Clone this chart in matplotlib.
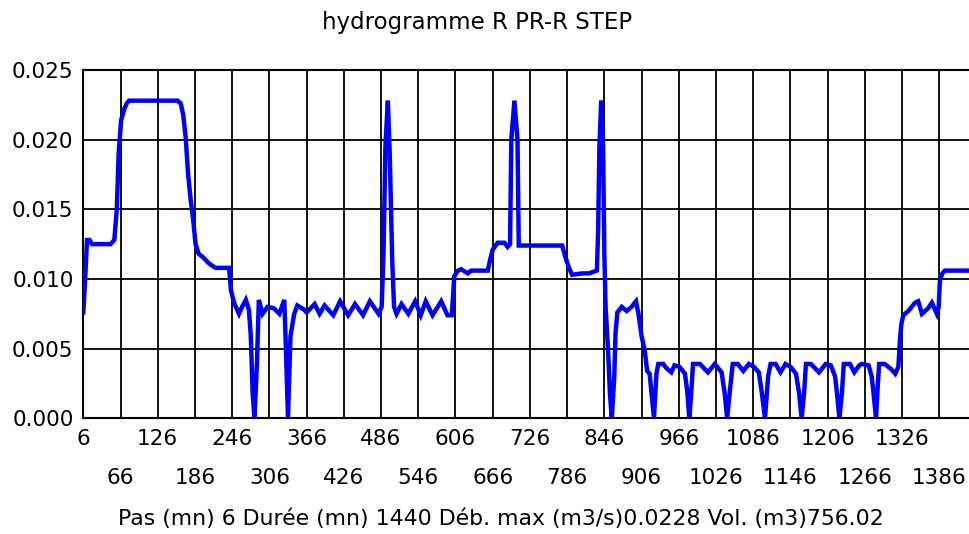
import numpy as np
import matplotlib
matplotlib.use('Agg')
from matplotlib import pyplot as plt
from matplotlib.ticker import FixedLocator, FuncFormatter


TITLE = 'hydrogramme R PR-R STEP'
FOOTER = 'Pas (mn) 6 Durée (mn) 1440 Déb. max (m3/s)0.0228 Vol. (m3)756.02'

time_mn = [6, 9, 12, 16, 20, 50, 56, 60, 63, 67, 72, 76, 80, 158, 163, 167, 171, 175,
           179, 183, 187, 192, 198, 209, 219, 241, 244, 249, 257, 262, 268, 273, 276,
           279, 282, 286, 289, 295, 303, 313, 322, 330, 332, 336, 340, 346, 351, 362,
           366, 379, 387, 395, 409, 420, 433, 444, 457, 468, 482, 487, 490, 493, 497,
           500, 504, 507, 511, 519, 530, 541, 550, 558, 569, 583, 593, 600, 602, 604,
           610, 615, 626, 631, 658, 662, 666, 674, 685, 690, 694, 696, 701, 706, 708,
           720, 778, 783, 789, 794, 810, 821, 834, 836, 838, 841, 844, 846, 848, 852,
           855, 858, 862, 864, 867, 874, 882, 890, 897, 901, 906, 911, 915, 919, 922,
           926, 930, 933, 941, 946, 954, 959, 967, 976, 980, 983, 986, 989, 1000, 1013,
           1024, 1035, 1040, 1044, 1048, 1053, 1061, 1070, 1079, 1087, 1095, 1100, 1105,
           1110, 1114, 1122, 1130, 1138, 1146, 1155, 1160, 1164, 1168, 1171, 1179, 1192,
           1203, 1211, 1218, 1221, 1225, 1229, 1232, 1242, 1249, 1257, 1261, 1272, 1277,
           1280, 1284, 1287, 1289, 1298, 1309, 1315, 1320, 1323, 1325, 1328, 1336, 1347,
           1352, 1358, 1368, 1374, 1382, 1385, 1387, 1391, 1395, 1440]
debit = [0.0076, 0.0100, 0.0128, 0.0128, 0.0125, 0.0125, 0.0128, 0.0150, 0.0190, 0.0214,
         0.0222, 0.0226, 0.0228, 0.0228, 0.0226, 0.0218, 0.0202, 0.0175, 0.0157, 0.0143,
         0.0125, 0.0118, 0.0116, 0.0111, 0.0108, 0.0108, 0.0092, 0.0083, 0.0075, 0.0080,
         0.0085, 0.0078, 0.0059, 0.0018, 0.0, 0.0040, 0.0085, 0.0075, 0.0080, 0.0079,
         0.0075, 0.0085, 0.0059, 0.0, 0.0059, 0.0075, 0.0081, 0.0078, 0.0076, 0.0082,
         0.0075, 0.0081, 0.0074, 0.0084, 0.0074, 0.0082, 0.0074, 0.0084, 0.0075, 0.0080,
         0.0118, 0.0195, 0.0228, 0.0190, 0.0114, 0.0080, 0.0075, 0.0082, 0.0075, 0.0084,
         0.0074, 0.0084, 0.0074, 0.0084, 0.0074, 0.0074, 0.0087, 0.0102, 0.0106, 0.0107,
         0.0104, 0.0106, 0.0106, 0.0114, 0.0121, 0.0126, 0.0126, 0.0123, 0.0125, 0.0200,
         0.0228, 0.0200, 0.0124, 0.0124, 0.0124, 0.0116, 0.0108, 0.0103, 0.0104, 0.0104,
         0.0106, 0.0135, 0.0195, 0.0228, 0.0195, 0.0118, 0.0080, 0.0049, 0.0018, 0.0,
         0.0030, 0.0061, 0.0076, 0.0080, 0.0077, 0.0080, 0.0084, 0.0075, 0.0059, 0.0049,
         0.0034, 0.0032, 0.0018, 0.0, 0.0032, 0.0039, 0.0039, 0.0036, 0.0033, 0.0038,
         0.0037, 0.0032, 0.0018, 0.0, 0.0018, 0.0039, 0.0039, 0.0033, 0.0039, 0.0033,
         0.0018, 0.0, 0.0018, 0.0039, 0.0039, 0.0034, 0.0039, 0.0037, 0.0033, 0.0018,
         0.0, 0.0030, 0.0039, 0.0039, 0.0033, 0.0039, 0.0037, 0.0032, 0.0018, 0.0,
         0.0018, 0.0039, 0.0039, 0.0033, 0.0039, 0.0038, 0.0030, 0.0018, 0.0, 0.0018,
         0.0039, 0.0039, 0.0033, 0.0038, 0.0039, 0.0038, 0.0030, 0.0018, 0.0, 0.0025,
         0.0039, 0.0039, 0.0035, 0.0032, 0.0037, 0.0059, 0.0068, 0.0074, 0.0077, 0.0083,
         0.0084, 0.0075, 0.0079, 0.0083, 0.0075, 0.0080, 0.0099, 0.0104, 0.0106, 0.0106]

x_ticks = [6 + 60 * k for k in range(24)]
y_ticks = [0.0, 0.005, 0.010, 0.015, 0.020, 0.025]

plt.rcParams['font.family'] = ['DejaVu Sans']

fig = plt.figure(figsize=(9.70, 5.34), dpi=100)
ax = fig.add_axes([83.3 / 970, (534 - 418.3) / 534, (972.8 - 83.3) / 970, 348.3 / 534])

ax.plot(time_mn, debit, color='#0000ff', lw=3.2, solid_joinstyle='miter', zorder=3)

ax.set_xlim(6, 1440)
ax.set_ylim(0, 0.025)

# two rows of x labels: even ticks on the first row, odd ticks below
ax.xaxis.set_major_locator(FixedLocator(x_ticks[0::2]))
ax.xaxis.set_minor_locator(FixedLocator(x_ticks[1::2]))
ax.xaxis.set_major_formatter(FuncFormatter(lambda v, p: '%d' % v))
ax.xaxis.set_minor_formatter(FuncFormatter(lambda v, p: '%d' % v))
ax.set_yticks(y_ticks)
ax.yaxis.set_major_formatter(FuncFormatter(lambda v, p: '%.3f' % v))

ax.tick_params(axis='both', which='both', length=0, labelsize=15.5, colors='black')
ax.tick_params(axis='x', which='major', pad=8)
ax.tick_params(axis='x', which='minor', pad=36)
ax.tick_params(axis='y', pad=7)

ax.grid(True, which='both', color='black', lw=1.3)
ax.set_axisbelow(True)
for side in ['top', 'bottom', 'left']:
    ax.spines[side].set_color('black')
    ax.spines[side].set_linewidth(1.5)
ax.spines['right'].set_visible(False)

ax.set_xlabel(FOOTER, fontsize=15.8)
ax.xaxis.set_label_coords(0.47, -0.258)
fig.text(0.492, 0.958, TITLE, ha='center', va='center', fontsize=16.5)

fig.savefig('out.png', dpi=100)
